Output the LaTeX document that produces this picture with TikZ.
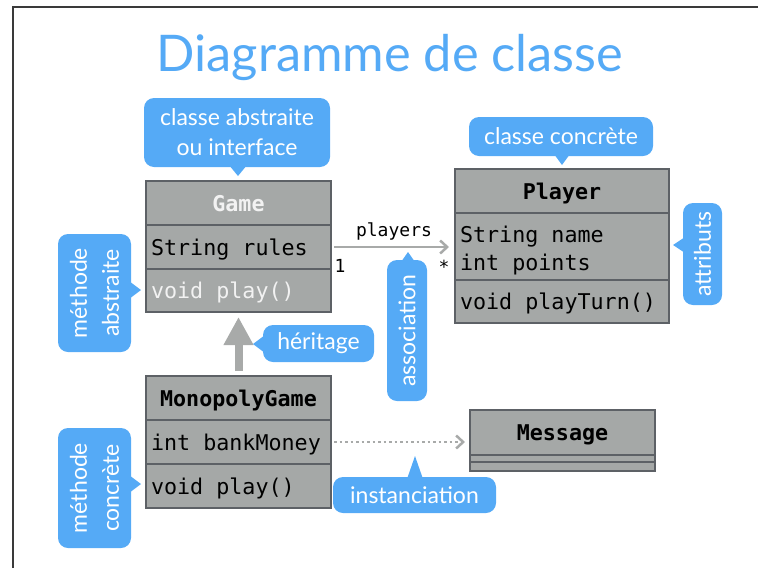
\documentclass[tikz,border=0pt]{standalone}
\usepackage{fontspec}
\setmainfont{Lato}
\setmonofont{DejaVu Sans Mono}
\usetikzlibrary{arrows.meta,calc}
\definecolor{cblue}{HTML}{55AAF6}
\definecolor{cgray}{HTML}{A5A8A7}
\definecolor{cborder}{HTML}{5D6166}
\definecolor{carrow}{HTML}{A8AAA9}
\definecolor{clight}{HTML}{F2F2F2}
\definecolor{cframe}{HTML}{3A3A3A}
\newcommand\monospc{\spaceskip=0.602em\relax}
\begin{document}
\begin{tikzpicture}[x=1pt,y=-1pt,
  box/.style={draw=cborder, fill=cgray, line width=2pt, inner sep=0pt, text depth=0pt,
    font=\ttfamily\fontsize{21.7}{28}\selectfont, execute at begin node=\monospc},
  hdr/.style={box, font=\ttfamily\bfseries\fontsize{21.7}{28}\selectfont},
  rowbox/.style={box, align=left, inner xsep=5pt},
  callout/.style={fill=cblue, rounded corners=10pt, text=white, align=center,
    inner sep=0pt, font=\fontsize{23}{30}\selectfont},
  vcallout/.style={callout, rotate=90, font=\fontsize{23}{32}\selectfont},
  assoc/.style={draw=carrow, line width=2.5pt, -{Straight Barb[length=7pt,width=13pt,line width=2.5pt]}},
  inst/.style={draw=carrow, line width=2.5pt, dash pattern=on 2.5pt off 3pt,
    -{Straight Barb[length=7pt,width=13pt,line width=2.5pt]}},
  inherit/.style={draw=carrow, line width=8pt, -{Triangle[length=28pt,width=28pt]}},
  small/.style={font=\ttfamily\fontsize{18}{20}\selectfont, inner sep=0pt},
]
\useasboundingbox (0,0) rectangle (758,568);
% frame
\draw[cframe, line width=1.5pt] (13,568) -- (13,7) -- (758,7);
% title
\node[text=cblue, font=\fontsize{50.5}{56}\selectfont, inner sep=0pt] (title) at (390,58) {Diagramme de classe};

% Game
\node[hdr, text=clight, minimum width=185pt, minimum height=45pt] (gameH) at (238.5,203.5) {Game};
\node[rowbox, text width=175pt, minimum height=44pt] (gameA) at (238.5,247) {String rules};
\node[rowbox, text width=175pt, minimum height=43pt, text=clight] (gameM) at (238.5,290.5) {void play()};

% Player
\node[hdr, minimum width=214pt, minimum height=44pt] (playerH) at (562,191) {Player};
\node[rowbox, text width=204pt, minimum height=67pt, text depth=25pt] (playerA) at (562,246.5) {String name\\int points};
\node[rowbox, text width=204pt, minimum height=43pt] (playerM) at (562,301.5) {void playTurn()};

% MonopolyGame
\node[hdr, minimum width=185pt, minimum height=44pt] (monoH) at (238.5,398) {MonopolyGame};
\node[rowbox, text width=175pt, minimum height=44pt] (monoA) at (238.5,442) {int bankMoney};
\node[rowbox, text width=175pt, minimum height=44pt] (monoM) at (238.5,486) {void play()};

% Message
\node[hdr, minimum width=185pt, minimum height=45pt] (msgH) at (562.5,432.5) {Message};
\node[box, minimum width=185pt, minimum height=7pt] (msgA) at (562.5,458.5) {};
\node[box, minimum width=185pt, minimum height=9pt] (msgM) at (562.5,466.5) {};

% connectors
\draw[assoc, shorten <=2pt, shorten >=5pt] (gameA.east) -- (gameA.east -| playerA.west);
\node[small] (lplayers) at (394,231) {players};
\node[small] (lone) at (340,266) {1};
\node[small] (lstar) at (444,267) {*};
\draw[inherit, shorten <=4pt, shorten >=4pt] (monoH.north) -- (gameM.south);
\draw[inst, shorten <=2pt, shorten >=4pt] (monoA.east) -- (monoA.east -| msgH.west);

% callouts
\node[callout, minimum width=186pt, minimum height=69pt] (c1) at (237,132.5) {classe abstraite\\ou interface};
\fill[cblue] (229,165) -- (238,176) -- (247,165) -- cycle;

\node[vcallout, minimum width=118pt, minimum height=73pt] (c2) at (94.5,293) {méthode\\abstraite};
\fill[cblue] (129,281) -- (141,290) -- (129,299) -- cycle;

\node[callout, minimum width=111pt, minimum height=37pt] (c3) at (318.5,343.5) {héritage};
\fill[cblue] (265,335) -- (253,344) -- (265,353) -- cycle;

\node[callout, minimum width=184pt, minimum height=39pt] (c4) at (561,136.5) {classe concrète};
\fill[cblue] (554,154) -- (562,165) -- (570,154) -- cycle;

\node[vcallout, minimum width=141pt, minimum height=40pt] (c5) at (407,330.5) {association};
\fill[cblue] (401,262) -- (408,252) -- (415,262) -- cycle;

\node[vcallout, minimum width=102pt, minimum height=39pt] (c6) at (702.5,254) {attributs};
\fill[cblue] (685,237) -- (673,245) -- (685,253) -- cycle;

\node[vcallout, minimum width=120pt, minimum height=73pt] (c7) at (94.5,488) {méthode\\concrète};
\fill[cblue] (129,475) -- (141,484) -- (129,493) -- cycle;

\node[callout, minimum width=163pt, minimum height=36pt] (c8) at (414.5,495) {instanciation};
\fill[cblue] (407,479) -- (415,456) -- (423,479) -- cycle;
\end{tikzpicture}
\end{document}
